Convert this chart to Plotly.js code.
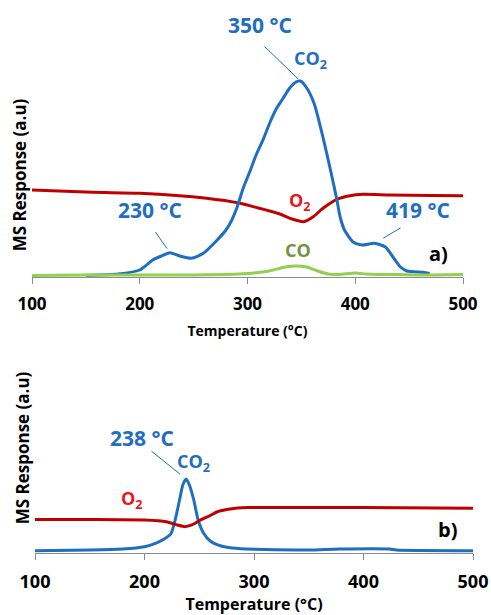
<!DOCTYPE html>
<html><head><meta charset="utf-8">
<script src="https://cdn.plot.ly/plotly-3.0.1.min.js"></script>
<style>html,body{margin:0;padding:0;background:#fff}#chart{width:491px;height:615px}</style>
</head><body><div id="chart"></div>
<script>
// ---- data ----
const tickValues = [100, 200, 300, 400, 500];
const tickLabels = ['100', '200', '300', '400', '500'];

// panel a)
const aCO2_T = [150,180,200,212,220,228,237,248,259,271,280,285,290,296,302,308,315,321,327,333,339,345,349,355,362,370,377,383,386,390,398,406,418,428,435,442,448,463,469];
const aCO2   = [1.7,3,7,17,21,24.3,21,18.7,23.7,36,47,56,68.7,88.7,105,122,138.7,155,168.7,178.7,188.7,195,196,189,173,140,107,77,60,47,35,32,33.7,30,20,10,6,4.7,3.5];
const aO2_T  = [100,150,200,262,293,310,324,330,342,352,361,370,383,395,407,432,470,500];
const aO2    = [87,85,83.7,78.7,73.7,69,65,63,57.7,55.3,60.3,68.7,77.7,81.3,82.7,82,81.5,81.3];
const aCO_T  = [100,150,200,250,280,300,320,335,345,355,365,375,385,400,410,420,440,460,500];
const aCO    = [1.5,2,2,2,2.5,3.5,6,10,11,10,6,3,2.5,4,3,2.5,2.5,2,2.5];

// panel b)
const bCO2_T = [100,150,180,200,210,218,224,228,232,235,238,241,245,249,254,260,270,280,300,350,378,424,430,500];
const bCO2   = [2.3,3,4,6.3,9.7,14,19,33,53,68,74,68,53,33,19.7,12,7,5,3.7,3,4,4,3,2.3];
const bO2_T  = [100,150,200,220,230,237,245,251,260,266,275,285,295,300,400,500];
const bO2    = [33.5,33.5,33,31.3,28,26.3,29,33,37.5,41,43.5,45,45.5,45.5,45.5,44.7];

// ---- styles ----
const BLUE = '#1F6EC0', DRED = '#C00000', RED = '#E8161E', GREEN = '#92D050', OLIVE = '#76923C';
const FONT = 'Open Sans, Noto Sans, sans-serif';
const W = 491, H = 615;

function line(x, y, color, xa, ya) {
  return {x: x, y: y, type: 'scatter', mode: 'lines', xaxis: xa, yaxis: ya,
          line: {color: color, width: 3, shape: 'spline', smoothing: 0.6}, hoverinfo: 'skip'};
}
const data = [
  line(aO2_T, aO2, DRED, 'x', 'y'),
  line(aCO2_T, aCO2, BLUE, 'x', 'y'),
  line(aCO_T, aCO, GREEN, 'x', 'y'),
  line(bCO2_T, bCO2, BLUE, 'x2', 'y2'),
  line(bO2_T, bO2, DRED, 'x2', 'y2')
];

function xax(dom, anchor, tsize, titleSize, standoff) {
  return {domain: dom, anchor: anchor, range: [100, 500], tickvals: tickValues, ticktext: tickLabels,
    ticks: 'outside', ticklen: 6, tickcolor: '#8c8c8c', tickwidth: 1, showline: true, linecolor: '#8c8c8c', linewidth: 1,
    showgrid: false, zeroline: false, ticklabelstandoff: 6,
    tickfont: {family: FONT, size: tsize, color: '#000', weight: 700},
    title: {text: 'Temperature (°C)', standoff: standoff, font: {family: FONT, size: titleSize, color: '#000', weight: 700}}};
}
function yax(dom, anchor, range) {
  return {domain: dom, anchor: anchor, range: range, showticklabels: false, showgrid: false, zeroline: false,
    showline: false, ticks: '',
    title: {text: 'MS Response (a.u)', standoff: 0, font: {family: FONT, size: 17, color: '#000', weight: 700}}};
}

function txt(xr, yr, x, y, text, color, size, xs, ys) {
  return {xref: xr, yref: yr, x: x, y: y, text: text, showarrow: false, xshift: xs, yshift: ys,
          xanchor: 'center', yanchor: 'middle', font: {family: FONT, size: size, color: color, weight: 700}};
}
// leader line from a pixel offset (ax, ay; y down) to a data point
function leader(xr, yr, x, y, ax, ay, so) {
  return {xref: xr, yref: yr, x: x, y: y, text: ' ', showarrow: true, arrowhead: 0, arrowwidth: 1,
          arrowcolor: BLUE, ax: ax, ay: ay, standoff: so, font: {size: 1}};
}

const aPk = aCO2.indexOf(Math.max(...aCO2));
const aSh = aCO2_T.indexOf(228);
const aSh2 = aCO2_T.indexOf(418);
const aO2min = aO2.indexOf(Math.min(...aO2));
const aCOpk = aCO.indexOf(Math.max(...aCO));
const bPk = bCO2.indexOf(Math.max(...bCO2));
const bO2i = bO2_T.indexOf(200);

const annotations = [
  txt('x', 'y', aCO2_T[aPk], aCO2[aPk], '350 °C', BLUE, 21, -40.3, 56),
  leader('x', 'y', aCO2_T[aPk], aCO2[aPk], -37.3, -36, 3),
  txt('x', 'y', aCO2_T[aPk], aCO2[aPk], 'CO<sub>2</sub>', BLUE, 18, 9.7, 21),
  txt('x', 'y', aCO2_T[aSh], aCO2[aSh], '230 °C', BLUE, 21, -20, 42.7),
  leader('x', 'y', aCO2_T[aSh], aCO2[aSh], -15.9, -22.7, 5),
  txt('x', 'y', aCO2_T[aSh2], aCO2[aSh2], '419 °C', BLUE, 21, 43.4, 33.3),
  leader('x', 'y', aCO2_T[aSh2], aCO2[aSh2], 27.4, -16.3, 10),
  txt('x', 'y', aO2_T[aO2min], aO2[aO2min], 'O<sub>2</sub>', RED, 18, -4, 19.7),
  txt('x', 'y', aCO_T[aCOpk], aCO[aCOpk], 'CO', OLIVE, 18, 2, 16),
  txt('paper', 'paper', 438 / W, 1 - 253 / H, 'a)', '#000', 20, 0, 0),

  txt('x2', 'y2', bCO2_T[bPk], bCO2[bPk], '238 °C', BLUE, 21, -44, 41),
  leader('x2', 'y2', bCO2_T[bPk], bCO2[bPk], -36.1, -29, 8),
  txt('x2', 'y2', bCO2_T[bPk], bCO2[bPk], 'CO<sub>2</sub>', BLUE, 18, 7, 17),
  txt('x2', 'y2', bO2_T[bO2i], bO2[bO2i], 'O<sub>2</sub>', RED, 18, -12.5, 21),
  txt('paper', 'paper', 447 / W, 1 - 529 / H, 'b)', '#000', 20, 0, 0)
];

const layout = {
  width: W, height: H, margin: {l: 0, r: 0, t: 0, b: 0}, showlegend: false,
  paper_bgcolor: '#ffffff', plot_bgcolor: 'rgba(0,0,0,0)',
  font: {family: FONT, color: '#000'},
  xaxis: xax([32 / W, 463 / W], 'y', 17, 14, 11),
  yaxis: yax([1 - 277 / H, 1 - 73 / H], 'x', [0, 204]),
  xaxis2: xax([35 / W, 473 / W], 'y2', 18, 16, 13),
  yaxis2: yax([1 - 553 / H, 1 - 343 / H], 'x2', [0, 210]),
  annotations: annotations
};

Plotly.newPlot('chart', data, layout, {staticPlot: true, displayModeBar: false});
</script>
</body></html>
